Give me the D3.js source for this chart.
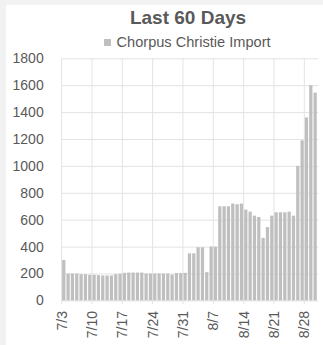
<!DOCTYPE html>
<html>
<head>
<meta charset="utf-8">
<script src="https://cdn.jsdelivr.net/npm/d3@7"></script>
<style>
  html, body { margin: 0; padding: 0; background: #f2f2f2; }
  svg { display: block; font-family: "Liberation Sans", Arial, sans-serif; }
</style>
</head>
<body>
<script>
const title = "Last 60 Days";
const seriesName = "Chorpus Christie Import";

// one bar per day, 7/3 .. 8/30
const days = [
  "7/3", "7/4", "7/5", "7/6", "7/7", "7/8", "7/9", "7/10", "7/11", "7/12",
  "7/13", "7/14", "7/15", "7/16", "7/17", "7/18", "7/19", "7/20", "7/21", "7/22",
  "7/23", "7/24", "7/25", "7/26", "7/27", "7/28", "7/29", "7/30", "7/31",
  "8/1", "8/2", "8/3", "8/4", "8/5", "8/6", "8/7", "8/8", "8/9", "8/10",
  "8/11", "8/12", "8/13", "8/14", "8/15", "8/16", "8/17", "8/18", "8/19", "8/20",
  "8/21", "8/22", "8/23", "8/24", "8/25", "8/26", "8/27", "8/28", "8/29", "8/30"
];
const imports = [
  300, 200, 200, 200, 195, 195, 190, 190, 188, 185,
  185, 185, 195, 198, 205, 207, 207, 207, 207, 200,
  200, 200, 200, 200, 200, 192, 203, 203, 205,
  350, 350, 395, 395, 210, 400, 400, 700, 700, 700,
  720, 715, 720, 675, 660, 630, 620, 465, 545, 630,
  655, 655, 655, 660, 630, 1000, 1190, 1360, 1600, 1545
];
const tickDays = ["7/3", "7/10", "7/17", "7/24", "7/31", "8/7", "8/14", "8/21", "8/28"];
const yTicks = [0, 200, 400, 600, 800, 1000, 1200, 1400, 1600, 1800];

const width = 323;
const height = 345;
const textColor = "#595959";
const gridColor = "#e3e3e3";
const barColor = "#bfbfbf";

const x = d3.scaleBand()
  .domain(days)
  .range([61.7, 317.2])
  .paddingInner(0.25)
  .paddingOuter(0.1);

const y = d3.scaleLinear()
  .domain([0, 1800])
  .range([300.4, 58.3]);

const svg = d3.select("body").append("svg")
  .attr("width", width)
  .attr("height", height);

svg.append("rect")
  .attr("x", 6).attr("y", 5)
  .attr("width", width - 6).attr("height", height - 5)
  .attr("fill", "white");

// horizontal gridlines + labels
const yAxis = svg.append("g")
  .attr("transform", `translate(${x.range()[0]},0)`)
  .call(d3.axisLeft(y)
    .tickValues(yTicks)
    .tickFormat(d3.format("d"))
    .tickSize(-(x.range()[1] - x.range()[0] + 1))
    .tickPadding(18));
yAxis.select(".domain").remove();
yAxis.selectAll("line").attr("stroke", gridColor);
yAxis.selectAll("text")
  .attr("fill", textColor)
  .attr("font-size", 14)
  .attr("font-family", "Liberation Sans, Arial, sans-serif");

// vertical gridlines at week boundaries
const step = x.step();
const left = (d) => x(d) - step * x.paddingInner() / 2;
svg.append("g")
  .selectAll("line")
  .data(tickDays)
  .join("line")
  .attr("x1", (d) => left(d))
  .attr("x2", (d) => left(d))
  .attr("y1", y(1800))
  .attr("y2", 304)
  .attr("stroke", gridColor);

// bars
svg.append("g")
  .selectAll("rect")
  .data(imports)
  .join("rect")
  .attr("x", (d, i) => x(days[i]))
  .attr("y", (d) => y(d))
  .attr("width", x.bandwidth())
  .attr("height", (d) => y(0) - y(d))
  .attr("fill", barColor);

// x labels, rotated
svg.append("g")
  .selectAll("text")
  .data(tickDays)
  .join("text")
  .attr("transform", (d) => `translate(${left(d) + 5},311) rotate(-90)`)
  .attr("text-anchor", "end")
  .attr("fill", textColor)
  .attr("font-size", 14)
  .text((d) => d);

// title + legend
svg.append("text")
  .attr("x", 188)
  .attr("y", 24)
  .attr("text-anchor", "middle")
  .attr("font-size", 19)
  .attr("font-weight", "bold")
  .attr("fill", textColor)
  .text(title);

svg.append("rect")
  .attr("x", 104).attr("y", 39)
  .attr("width", 7).attr("height", 7)
  .attr("fill", barColor);

svg.append("text")
  .attr("x", 116.5)
  .attr("y", 46.5)
  .attr("font-size", 14.6)
  .attr("fill", textColor)
  .text(seriesName);
</script>
</body>
</html>
